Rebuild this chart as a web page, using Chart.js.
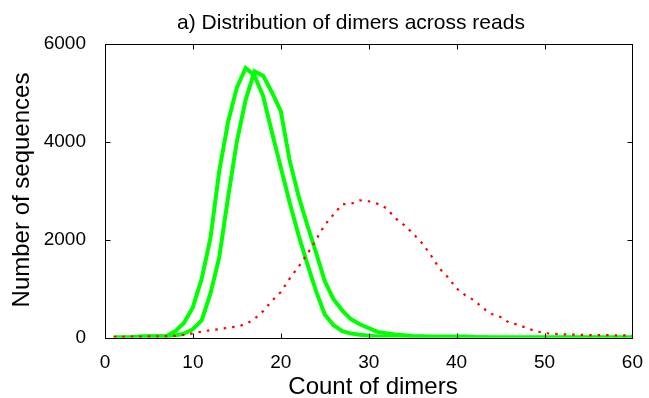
<!DOCTYPE html>
<html>
<head>
<meta charset="utf-8">
<title>Distribution of dimers across reads</title>
<script src="https://cdn.jsdelivr.net/npm/chart.js@4.4.0/dist/chart.umd.min.js"></script>
<style>
  html, body { margin: 0; padding: 0; background: #fff; }
  #wrap { width: 649px; height: 398px; }
</style>
</head>
<body>
<div id="wrap"><canvas id="dimerChart" width="649" height="398"></canvas></div>
<script>
// dimer count per read (x) and number of sequences (y)
const dimerCounts = [
   1,  2,  3,  4,  5,  6,  7,  8,  9, 10, 11, 12, 13, 14, 15, 16, 17, 18, 19, 20,
  21, 22, 23, 24, 25, 26, 27, 28, 29, 30, 31, 32, 33, 34, 35, 36, 37, 38, 39, 40,
  41, 42, 43, 44, 45, 46, 47, 48, 49, 50, 51, 52, 53, 54, 55, 56, 57, 58, 59, 60
];
const readsSetA = [
     0,    0,    5,   20,   25,   25,   30,  130,  300,  620, 1200, 2030, 3400, 4400, 5100, 5500, 5350, 4920, 4180, 3470,
  2760, 2100, 1510,  950,  470,  250,  130,   80,   55,   35,   20,   10,    8,    5,    5,    0,    0,    0,    0,    0,
     0,    0,    0,    0,    0,    0,    0,    0,    0,    0,    0,    0,    0,    0,    0,    0,    0,    0,    0,    0
];
const readsSetB = [
     0,    0,    5,   15,   20,   20,   25,   40,   80,  170,  350,  900, 1640, 2860, 4000, 4850, 5430, 5340, 5000, 4620,
  3620, 2900, 2300, 1740, 1150,  780,  550,  370,  270,  190,  115,   85,   60,   45,   30,   25,   20,   20,   20,   20,
    20,   10,    5,    0,    0,    0,    0,    0,    0,    0,    0,    0,    0,    0,    0,    0,    0,    0,    0,    0
];
const readsRandom = [
    15,   15,   20,   20,   25,   25,   30,   35,   55,   85,  120,  150,  170,  200,  225,  270,  380,  540,  750,  930,
  1200, 1440, 1700, 1990, 2300, 2510, 2720, 2730, 2800, 2780, 2730, 2640, 2440, 2300, 2130, 1940, 1700, 1420, 1230, 1000,
   860,  760,  600,  480,  420,  300,  260,  190,  130,   90,   75,   65,   60,   55,   50,   50,   50,   45,   45,   45
];
const xTicks = [0, 10, 20, 30, 40, 50, 60];
const yTicks = [0, 2000, 4000, 6000];

const FONT = "'Liberation Sans', Arial, Helvetica, sans-serif";

function toPoints(ys) {
  return dimerCounts.map((c, i) => ({ x: c, y: ys[i] }));
}

// boxed axes with inward ticks, title and axis labels
const matlabFrame = {
  id: 'matlabFrame',
  afterDraw(chart) {
    const { ctx, chartArea: a, scales } = chart;
    const L = Math.round(a.left) + 0.5, R = Math.round(a.right) + 0.5;
    const T = Math.round(a.top) + 0.5, B = Math.round(a.bottom) + 0.5;
    const tl = 5;
    ctx.save();
    ctx.strokeStyle = '#000';
    ctx.lineWidth = 1;
    ctx.strokeRect(L, T, R - L, B - T);
    ctx.beginPath();
    xTicks.forEach(v => {
      const px = Math.round(scales.x.getPixelForValue(v)) + 0.5;
      ctx.moveTo(px, B); ctx.lineTo(px, B - tl);
      ctx.moveTo(px, T); ctx.lineTo(px, T + tl);
    });
    yTicks.forEach(v => {
      const py = Math.round(scales.y.getPixelForValue(v)) + 0.5;
      ctx.moveTo(L, py); ctx.lineTo(L + tl, py);
      ctx.moveTo(R, py); ctx.lineTo(R - tl, py);
    });
    ctx.stroke();

    ctx.fillStyle = '#000';
    ctx.textAlign = 'center';
    ctx.textBaseline = 'alphabetic';
    ctx.font = '21px ' + FONT;
    ctx.fillText('a) Distribution of dimers across reads', 351, 29);
    ctx.font = '24px ' + FONT;
    ctx.fillText('Count of dimers', 373, 394);
    ctx.translate(29, 190);
    ctx.rotate(-Math.PI / 2);
    ctx.fillText('Number of sequences', 0, 0);
    ctx.restore();
  }
};

new Chart(document.getElementById('dimerChart'), {
  type: 'line',
  data: {
    datasets: [
      {
        label: 'random',
        data: toPoints(readsRandom),
        borderColor: '#ff0000',
        borderWidth: 2.2,
        borderDash: [2.5, 6],
        pointRadius: 0,
        tension: 0,
        fill: false
      },
      {
        label: 'set A',
        data: toPoints(readsSetA),
        borderColor: '#00ff00',
        borderWidth: 4,
        pointRadius: 0,
        tension: 0,
        fill: false
      },
      {
        label: 'set B',
        data: toPoints(readsSetB),
        borderColor: '#00ff00',
        borderWidth: 4,
        pointRadius: 0,
        tension: 0,
        fill: false
      }
    ]
  },
  options: {
    responsive: false,
    animation: false,
    layout: { padding: { top: 43.5, right: 13, left: 0, bottom: 0 } },
    plugins: {
      legend: { display: false },
      title: { display: false },
      tooltip: { enabled: false }
    },
    scales: {
      x: {
        type: 'linear',
        min: 0,
        max: 60,
        afterFit(scale) { scale.height = 60.5; },
        afterBuildTicks(scale) { scale.ticks = xTicks.map(v => ({ value: v })); },
        grid: { display: false },
        border: { display: false },
        ticks: {
          color: '#000', padding: 6, maxRotation: 0,
          font: { family: FONT, size: 19 },
          callback: v => String(v)
        }
      },
      y: {
        min: 0,
        max: 6000,
        afterFit(scale) { scale.width = 105; },
        afterBuildTicks(scale) { scale.ticks = yTicks.map(v => ({ value: v })); },
        grid: { display: false },
        border: { display: false },
        ticks: {
          color: '#000', padding: 11,
          font: { family: FONT, size: 19 },
          callback: v => String(v)
        }
      }
    }
  },
  plugins: [matlabFrame]
});
</script>
</body>
</html>
